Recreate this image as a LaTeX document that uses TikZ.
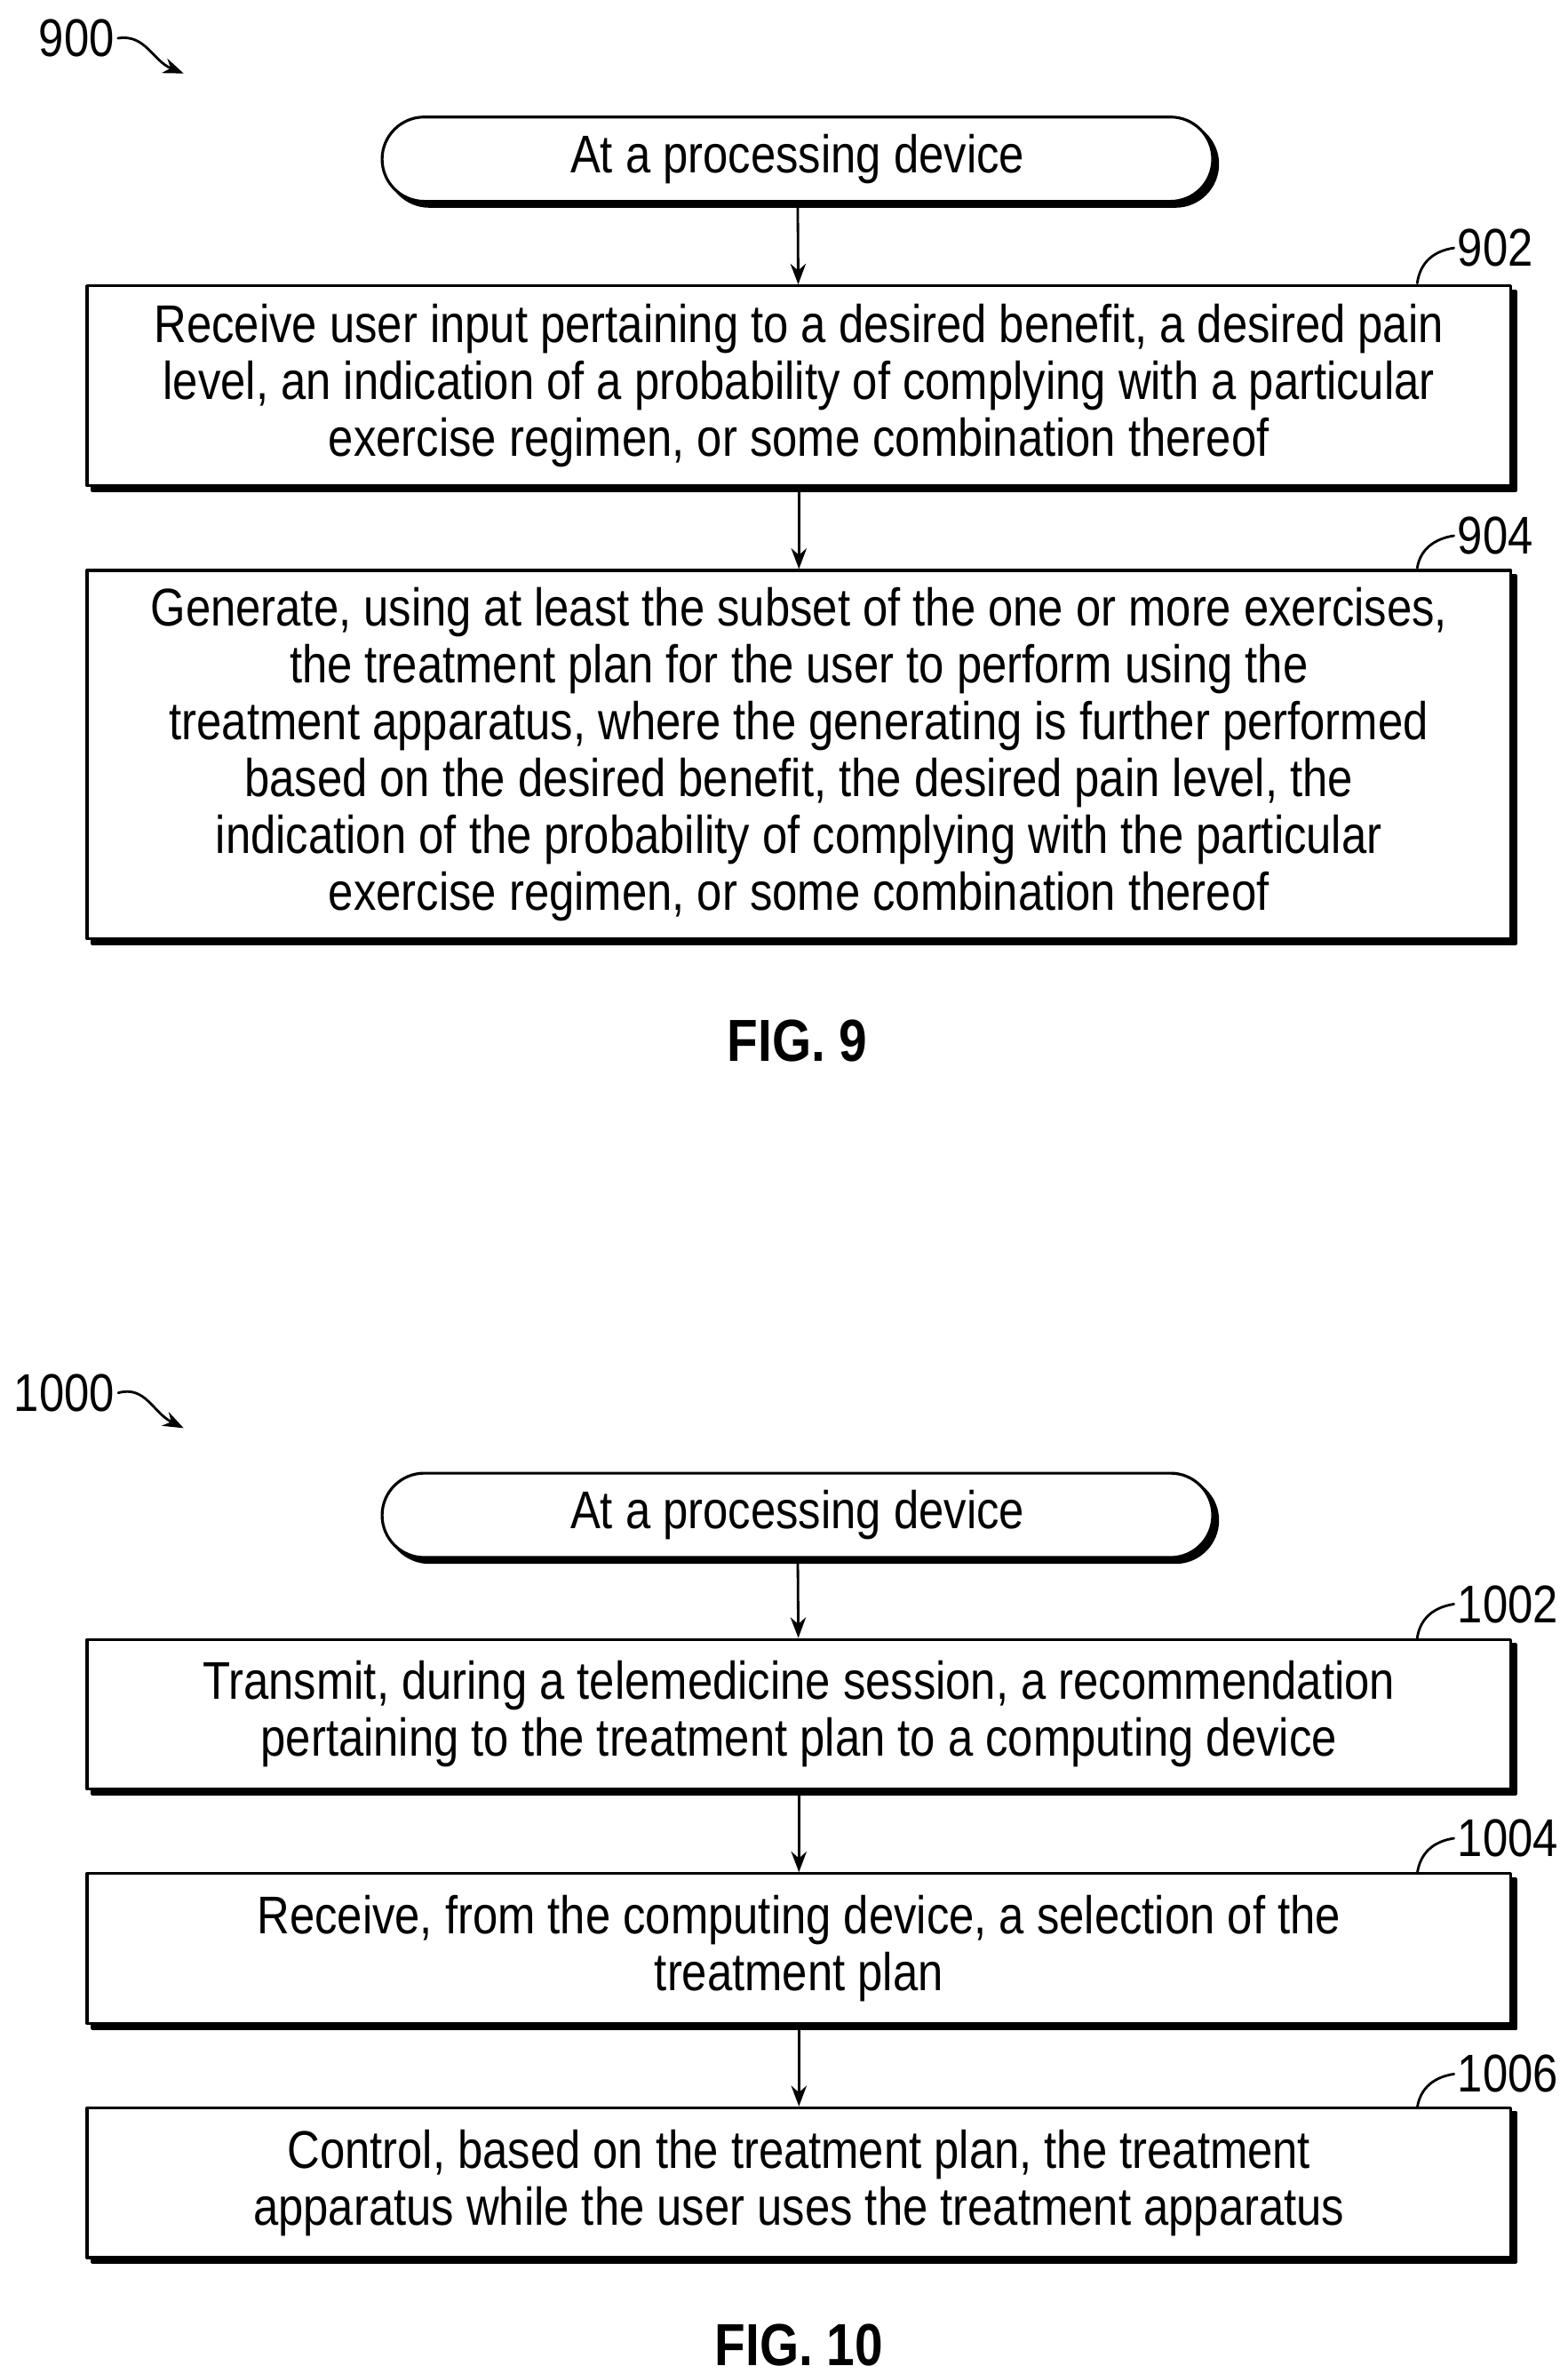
\documentclass[tikz,border=0pt]{standalone}
\usepackage{fontspec}
\setmainfont{Liberation Sans}[FakeStretch=0.85]
\usetikzlibrary{arrows.meta,positioning,calc,shapes.misc,shadows}
\tikzset{
  >=Stealth,
  every picture/.style={line cap=round, line join=round},
  every node/.style={font=\fontsize{17}{18.2}\selectfont},
  shade/.style={copy shadow={shadow xshift=1.6pt, shadow yshift=-1.6pt, fill=black, draw=black}},
  block/.style={draw, line width=0.9pt, fill=white, align=center, shade, inner sep=0pt, minimum width=456pt},
  start/.style={block, rounded rectangle, minimum width=266pt, minimum height=27pt},
  arrow/.style={->, line width=0.8pt},
  tag/.style={anchor=west, inner sep=1pt},
  lead/.style={line width=0.8pt}
}
\begin{document}
\begin{tikzpicture}[x=0.017227cm, y=-0.017227cm]
  \useasboundingbox (0,0) rectangle (1024,1551);

  % FIG. 9
  \node[inner sep=1pt] (n900) at (50,25) {900};
  \draw[arrow] (n900.east) .. controls (95,22) and (100,40) .. (120,48);
  \node[start] (s9) at (521,104) {At a processing device};

  \node[block, minimum height=64pt] (b902) at (522,252)
    {Receive user input pertaining to a desired benefit, a desired pain\\
     level, an indication of a probability of complying with a particular\\
     exercise regimen, or some combination thereof};
  \node[block, minimum height=118pt] (b904) at (522,493)
    {Generate, using at least the subset of the one or more exercises,\\
     the treatment plan for the user to perform using the\\
     treatment apparatus, where the generating is further performed\\
     based on the desired benefit, the desired pain level, the\\
     indication of the probability of complying with the particular\\
     exercise regimen, or some combination thereof};

  \node[tag] (t902) at (950,162) {902};
  \node[tag] (t904) at (950,350) {904};
  \draw[lead] (t902.west) .. controls (937,164) and (928,171) .. (926,185);
  \draw[lead] (t904.west) .. controls (937,352) and (928,359) .. (926,371);

  \draw[arrow] (s9) -- (b902);
  \draw[arrow] (b902) -- (b904);
  \node[font=\bfseries\fontsize{19}{20}\selectfont] (f9) at (521,680) {FIG. 9};

  % FIG. 10
  \node[inner sep=1pt] (n1000) at (42,910) {1000};
  \draw[arrow] (n1000.east) .. controls (95,905) and (100,923) .. (120,933);
  \node[start] (s10) at (521,990) {At a processing device};

  \node[block, minimum height=48pt] (b1002) at (522,1120)
    {Transmit, during a telemedicine session, a recommendation\\
     pertaining to the treatment plan to a computing device};
  \node[block, minimum height=48pt] (b1004) at (522,1273)
    {Receive, from the computing device, a selection of the\\
     treatment plan};
  \node[block, minimum height=48pt] (b1006) at (522,1426)
    {Control, based on the treatment plan, the treatment\\
     apparatus while the user uses the treatment apparatus};

  \node[tag] (t1002) at (950,1048) {1002};
  \node[tag] (t1004) at (950,1201) {1004};
  \node[tag] (t1006) at (950,1355) {1006};
  \draw[lead] (t1002.west) .. controls (937,1050) and (928,1057) .. (926,1070);
  \draw[lead] (t1004.west) .. controls (937,1203) and (928,1210) .. (926,1224);
  \draw[lead] (t1006.west) .. controls (937,1357) and (928,1364) .. (926,1377);

  \draw[arrow] (s10) -- (b1002);
  \draw[arrow] (b1002) -- (b1004);
  \draw[arrow] (b1004) -- (b1006);
  \node[font=\bfseries\fontsize{19}{20}\selectfont] (f10) at (522,1532) {FIG. 10};
\end{tikzpicture}
\end{document}
